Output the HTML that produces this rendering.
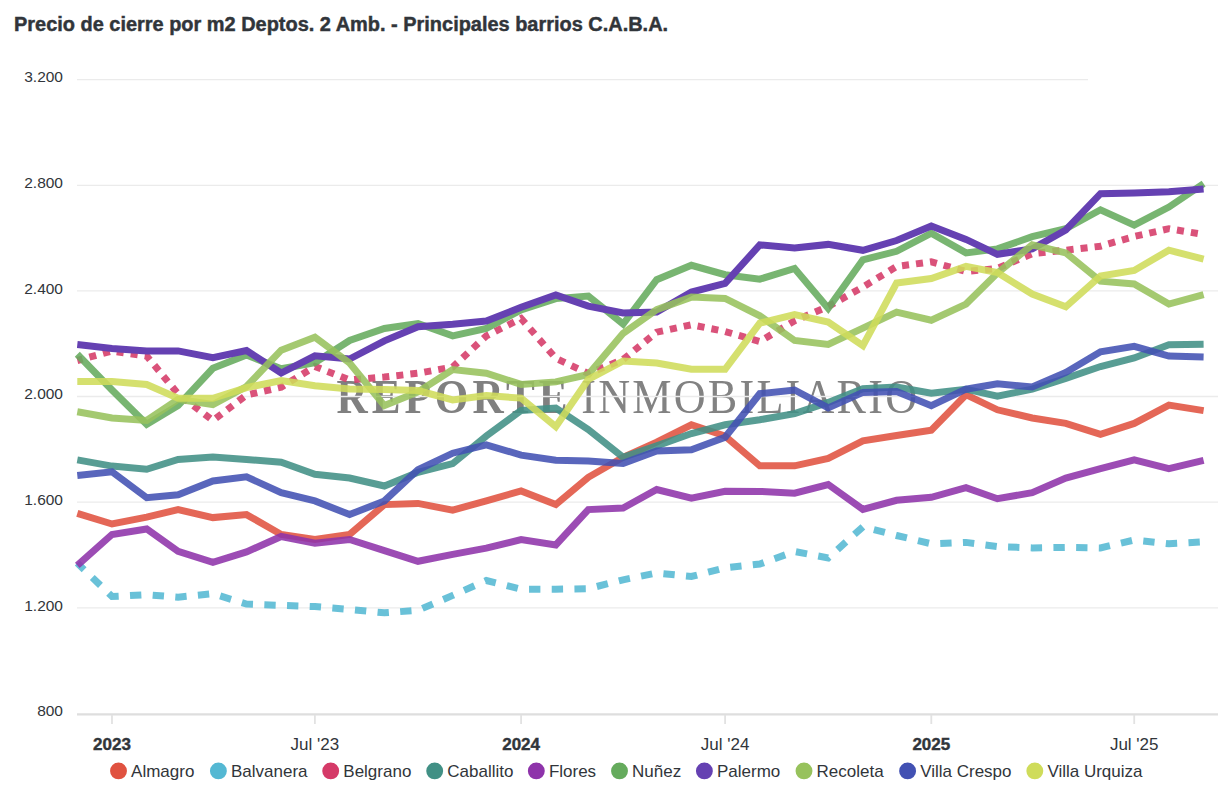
<!DOCTYPE html>
<html><head><meta charset="utf-8"><style>
html,body{margin:0;padding:0;background:#ffffff;}
body{width:1218px;height:804px;position:relative;overflow:hidden;font-family:"Liberation Sans",sans-serif;}
</style></head><body>
<svg width="1218" height="804" viewBox="0 0 1218 804" style="position:absolute;left:0;top:0">
<text x="14" y="30.6" font-family="Liberation Sans" font-weight="bold" font-size="19.95" fill="#31353a" stroke="#31353a" stroke-width="0.45">Precio de cierre por m2 Deptos. 2 Amb. - Principales barrios C.A.B.A.</text>
<defs><filter id="wmb" x="-5%" y="-20%" width="110%" height="140%"><feGaussianBlur stdDeviation="0.45"/></filter></defs>
<g filter="url(#wmb)">
<text transform="translate(336.6 412.5) scale(0.9 1)" x="0" y="0" font-family="Liberation Serif" font-size="48" font-weight="bold" letter-spacing="4.4" fill="#808080">REPORTE</text>
<text transform="translate(581.3 412.5) scale(0.92 1)" x="0" y="0" font-family="Liberation Serif" font-size="48" letter-spacing="2.4" fill="#828282">INMOBILIARIO</text>
</g>
<line x1="77" y1="79.60" x2="1088" y2="79.60" stroke="#ebebeb" stroke-width="1.3"/>
<line x1="77" y1="185.30" x2="1218" y2="185.30" stroke="#ebebeb" stroke-width="1.3"/>
<line x1="77" y1="290.90" x2="1218" y2="290.90" stroke="#ebebeb" stroke-width="1.3"/>
<line x1="77" y1="396.50" x2="1218" y2="396.50" stroke="#ebebeb" stroke-width="1.3"/>
<line x1="77" y1="502.10" x2="1218" y2="502.10" stroke="#ebebeb" stroke-width="1.3"/>
<line x1="77" y1="607.90" x2="1218" y2="607.90" stroke="#ebebeb" stroke-width="1.3"/>
<line x1="77" y1="714.4" x2="1218" y2="714.4" stroke="#dedede" stroke-width="2.2"/>
<line x1="112.0" y1="715" x2="112.0" y2="724" stroke="#e2e2e2" stroke-width="1.8"/>
<line x1="314.9" y1="715" x2="314.9" y2="724" stroke="#e2e2e2" stroke-width="1.8"/>
<line x1="521.1" y1="715" x2="521.1" y2="724" stroke="#e2e2e2" stroke-width="1.8"/>
<line x1="725.1" y1="715" x2="725.1" y2="724" stroke="#e2e2e2" stroke-width="1.8"/>
<line x1="931.3" y1="715" x2="931.3" y2="724" stroke="#e2e2e2" stroke-width="1.8"/>
<line x1="1134.2" y1="715" x2="1134.2" y2="724" stroke="#e2e2e2" stroke-width="1.8"/>
<text x="63" y="82.2" text-anchor="end" font-family="Liberation Sans" font-size="15.5" fill="#31353a">3.200</text>
<text x="63" y="187.9" text-anchor="end" font-family="Liberation Sans" font-size="15.5" fill="#31353a">2.800</text>
<text x="63" y="293.5" text-anchor="end" font-family="Liberation Sans" font-size="15.5" fill="#31353a">2.400</text>
<text x="63" y="399.1" text-anchor="end" font-family="Liberation Sans" font-size="15.5" fill="#31353a">2.000</text>
<text x="63" y="504.7" text-anchor="end" font-family="Liberation Sans" font-size="15.5" fill="#31353a">1.600</text>
<text x="63" y="610.5" text-anchor="end" font-family="Liberation Sans" font-size="15.5" fill="#31353a">1.200</text>
<text x="63" y="716.1" text-anchor="end" font-family="Liberation Sans" font-size="15.5" fill="#31353a">800</text>
<text x="112.0" y="750" text-anchor="middle" font-family="Liberation Sans" font-weight="bold" font-size="17" fill="#31353a" stroke="#31353a" stroke-width="0.4">2023</text>
<text x="314.9" y="750" text-anchor="middle" font-family="Liberation Sans" font-weight="normal" font-size="17" fill="#31353a">Jul &#39;23</text>
<text x="521.1" y="750" text-anchor="middle" font-family="Liberation Sans" font-weight="bold" font-size="17" fill="#31353a" stroke="#31353a" stroke-width="0.4">2024</text>
<text x="725.1" y="750" text-anchor="middle" font-family="Liberation Sans" font-weight="normal" font-size="17" fill="#31353a">Jul &#39;24</text>
<text x="931.3" y="750" text-anchor="middle" font-family="Liberation Sans" font-weight="bold" font-size="17" fill="#31353a" stroke="#31353a" stroke-width="0.4">2025</text>
<text x="1134.2" y="750" text-anchor="middle" font-family="Liberation Sans" font-weight="normal" font-size="17" fill="#31353a">Jul &#39;25</text>
<path d="M77.3 513.3 L112.0 524.0 L146.7 517.1 L178.1 509.6 L212.9 517.6 L246.5 514.6 L281.2 534.5 L314.9 539.5 L349.6 534.5 L384.4 504.6 L418.0 503.4 L452.7 510.1 L486.3 500.9 L521.1 490.9 L555.8 504.6 L588.3 477.3 L623.1 457.3 L656.7 442.2 L691.4 424.8 L725.1 436.0 L759.8 465.8 L794.6 465.8 L828.2 458.4 L862.9 440.9 L896.6 435.5 L931.3 430.3 L966.0 394.7 L997.4 409.8 L1032.2 418.0 L1065.8 423.4 L1100.5 434.4 L1134.2 423.4 L1168.9 405.1 L1203.6 410.6" fill="none" stroke="#e05240" stroke-width="7" stroke-linejoin="miter" stroke-opacity="0.88"/>
<path d="M77.3 563.1 L112.0 596.5 L146.7 594.7 L178.1 597.2 L212.9 593.7 L246.5 604.1 L281.2 605.4 L314.9 606.6 L349.6 609.5 L384.4 612.8 L418.0 610.3 L452.7 595.4 L486.3 580.5 L521.1 589.2 L555.8 589.2 L588.3 588.7 L623.1 579.8 L656.7 573.0 L691.4 576.5 L725.1 567.8 L759.8 564.1 L794.6 551.5 L828.2 557.9 L862.9 526.8 L896.6 535.5 L931.3 543.8 L966.0 542.4 L997.4 546.5 L1032.2 547.9 L1065.8 547.4 L1100.5 547.9 L1134.2 540.0 L1168.9 543.8 L1203.6 541.9" fill="none" stroke="#54b8d3" stroke-width="7" stroke-linejoin="miter" stroke-opacity="0.88" stroke-dasharray="11.35,11.35" stroke-dashoffset="1.9"/>
<path d="M77.3 360.5 L112.0 351.0 L146.7 356.0 L178.1 394.0 L212.9 420.5 L246.5 395.0 L281.2 387.2 L314.9 366.5 L349.6 380.0 L384.4 377.0 L418.0 373.2 L452.7 367.0 L486.3 335.9 L521.1 318.5 L555.8 358.3 L588.3 373.5 L623.1 359.5 L656.7 332.2 L691.4 324.8 L725.1 331.5 L759.8 341.5 L794.6 320.8 L828.2 306.5 L862.9 287.0 L896.6 266.5 L931.3 261.8 L966.0 271.5 L997.4 268.4 L1032.2 253.7 L1065.8 250.2 L1100.5 246.2 L1134.2 236.5 L1168.9 228.7 L1203.6 234.5" fill="none" stroke="#d53a68" stroke-width="7" stroke-linejoin="miter" stroke-opacity="0.88" stroke-dasharray="7.06,7.06" stroke-dashoffset="1.6"/>
<path d="M77.3 459.9 L112.0 466.1 L146.7 469.3 L178.1 459.4 L212.9 456.9 L246.5 459.4 L281.2 462.3 L314.9 474.3 L349.6 478.0 L384.4 486.0 L418.0 472.3 L452.7 463.6 L486.3 436.0 L521.1 410.5 L555.8 408.0 L588.3 429.5 L623.1 457.3 L656.7 445.9 L691.4 433.5 L725.1 424.8 L759.8 419.8 L794.6 413.6 L828.2 402.4 L862.9 388.7 L896.6 387.0 L931.3 393.3 L966.0 389.2 L997.4 396.1 L1032.2 389.2 L1065.8 378.3 L1100.5 366.5 L1134.2 358.0 L1168.9 344.7 L1203.6 344.3" fill="none" stroke="#419085" stroke-width="7" stroke-linejoin="miter" stroke-opacity="0.88"/>
<path d="M77.3 565.3 L112.0 534.5 L146.7 529.0 L178.1 551.4 L212.9 562.3 L246.5 551.9 L281.2 536.5 L314.9 543.2 L349.6 539.5 L384.4 550.6 L418.0 561.3 L452.7 554.4 L486.3 548.2 L521.1 539.5 L555.8 544.9 L588.3 509.6 L623.1 508.0 L656.7 489.5 L691.4 498.2 L725.1 491.2 L759.8 491.4 L794.6 493.2 L828.2 484.5 L862.9 509.4 L896.6 500.3 L931.3 497.3 L966.0 487.7 L997.4 498.7 L1032.2 492.6 L1065.8 478.1 L1100.5 468.6 L1134.2 459.8 L1168.9 468.6 L1203.6 460.4" fill="none" stroke="#8e33aa" stroke-width="7" stroke-linejoin="miter" stroke-opacity="0.88"/>
<path d="M77.3 354.2 L112.0 390.0 L146.7 424.3 L178.1 405.6 L212.9 368.3 L246.5 355.0 L281.2 368.8 L314.9 362.8 L349.6 340.5 L384.4 328.5 L418.0 323.5 L452.7 335.9 L486.3 328.5 L521.1 309.8 L555.8 298.6 L588.3 296.1 L623.1 324.0 L656.7 279.7 L691.4 265.3 L725.1 274.7 L759.8 279.2 L794.6 268.5 L828.2 308.3 L862.9 259.8 L896.6 251.3 L931.3 233.2 L966.0 252.9 L997.4 248.9 L1032.2 236.7 L1065.8 228.7 L1100.5 209.8 L1134.2 225.2 L1168.9 207.1 L1203.6 183.7" fill="none" stroke="#65ab5d" stroke-width="7" stroke-linejoin="miter" stroke-opacity="0.88"/>
<path d="M77.3 344.6 L112.0 348.4 L146.7 350.9 L178.1 350.9 L212.9 357.6 L246.5 350.5 L281.2 373.0 L314.9 355.8 L349.6 359.0 L384.4 340.9 L418.0 326.7 L452.7 324.2 L486.3 321.0 L521.1 307.3 L555.8 294.9 L588.3 306.1 L623.1 313.0 L656.7 312.0 L691.4 292.1 L725.1 283.4 L759.8 244.9 L794.6 247.9 L828.2 244.4 L862.9 250.3 L896.6 240.5 L931.3 226.0 L966.0 239.4 L997.4 254.3 L1032.2 248.9 L1065.8 230.0 L1100.5 193.7 L1134.2 192.9 L1168.9 191.8 L1203.6 189.0" fill="none" stroke="#6541b2" stroke-width="7" stroke-linejoin="miter" stroke-opacity="1"/>
<path d="M77.3 411.8 L112.0 418.0 L146.7 420.5 L178.1 399.4 L212.9 404.5 L246.5 386.5 L281.2 350.2 L314.9 337.2 L349.6 363.0 L384.4 405.6 L418.0 391.9 L452.7 369.5 L486.3 373.2 L521.1 384.4 L555.8 381.9 L588.3 374.5 L623.1 333.3 L656.7 309.6 L691.4 297.1 L725.1 298.4 L759.8 315.8 L794.6 340.5 L828.2 344.5 L862.9 328.2 L896.6 312.1 L931.3 320.2 L966.0 304.1 L997.4 273.1 L1032.2 244.8 L1065.8 252.9 L1100.5 281.2 L1134.2 283.9 L1168.9 304.1 L1203.6 294.6" fill="none" stroke="#97c25c" stroke-width="7" stroke-linejoin="miter" stroke-opacity="0.88"/>
<path d="M77.3 475.5 L112.0 471.8 L146.7 497.7 L178.1 494.7 L212.9 481.0 L246.5 476.8 L281.2 492.7 L314.9 500.9 L349.6 514.6 L384.4 500.9 L418.0 469.8 L452.7 453.2 L486.3 444.8 L521.1 455.1 L555.8 460.3 L588.3 461.0 L623.1 463.4 L656.7 450.9 L691.4 449.7 L725.1 437.2 L759.8 393.7 L794.6 390.0 L828.2 407.9 L862.9 392.4 L896.6 391.6 L931.3 405.7 L966.0 389.2 L997.4 383.8 L1032.2 387.0 L1065.8 372.5 L1100.5 351.8 L1134.2 346.3 L1168.9 356.0 L1203.6 357.0" fill="none" stroke="#4251b3" stroke-width="7" stroke-linejoin="miter" stroke-opacity="0.88"/>
<path d="M77.3 381.5 L112.0 381.5 L146.7 384.5 L178.1 398.3 L212.9 398.3 L246.5 387.6 L281.2 380.6 L314.9 385.8 L349.6 389.0 L384.4 389.4 L418.0 390.6 L452.7 400.0 L486.3 395.6 L521.1 398.1 L555.8 426.7 L588.3 379.5 L623.1 361.0 L656.7 363.0 L691.4 369.3 L725.1 369.3 L759.8 323.2 L794.6 314.5 L828.2 322.0 L862.9 345.6 L896.6 283.0 L931.3 278.5 L966.0 266.4 L997.4 272.6 L1032.2 294.0 L1065.8 306.8 L1100.5 276.0 L1134.2 270.4 L1168.9 250.2 L1203.6 259.1" fill="none" stroke="#cfdc5a" stroke-width="7" stroke-linejoin="miter" stroke-opacity="0.88"/>
<circle cx="118.5" cy="770.9" r="8.45" fill="#e05240"/>
<text x="131.1" y="776.7" font-family="Liberation Sans" font-size="17" fill="#31353a">Almagro</text>
<circle cx="218.4" cy="770.9" r="8.45" fill="#54b8d3"/>
<text x="231.0" y="776.7" font-family="Liberation Sans" font-size="17" fill="#31353a">Balvanera</text>
<circle cx="330.7" cy="770.9" r="8.45" fill="#d53a68"/>
<text x="343.3" y="776.7" font-family="Liberation Sans" font-size="17" fill="#31353a">Belgrano</text>
<circle cx="434.7" cy="770.9" r="8.45" fill="#419085"/>
<text x="447.3" y="776.7" font-family="Liberation Sans" font-size="17" fill="#31353a">Caballito</text>
<circle cx="536.3" cy="770.9" r="8.45" fill="#8e33aa"/>
<text x="548.9" y="776.7" font-family="Liberation Sans" font-size="17" fill="#31353a">Flores</text>
<circle cx="619.5" cy="770.9" r="8.45" fill="#65ab5d"/>
<text x="632.1" y="776.7" font-family="Liberation Sans" font-size="17" fill="#31353a">Nuñez</text>
<circle cx="704.4" cy="770.9" r="8.45" fill="#6541b2"/>
<text x="717.0" y="776.7" font-family="Liberation Sans" font-size="17" fill="#31353a">Palermo</text>
<circle cx="804.0" cy="770.9" r="8.45" fill="#97c25c"/>
<text x="816.6" y="776.7" font-family="Liberation Sans" font-size="17" fill="#31353a">Recoleta</text>
<circle cx="907.6" cy="770.9" r="8.45" fill="#4251b3"/>
<text x="920.2" y="776.7" font-family="Liberation Sans" font-size="17" fill="#31353a">Villa Crespo</text>
<circle cx="1034.8" cy="770.9" r="8.45" fill="#cfdc5a"/>
<text x="1047.3999999999999" y="776.7" font-family="Liberation Sans" font-size="17" fill="#31353a">Villa Urquiza</text>
</svg>
</body></html>
